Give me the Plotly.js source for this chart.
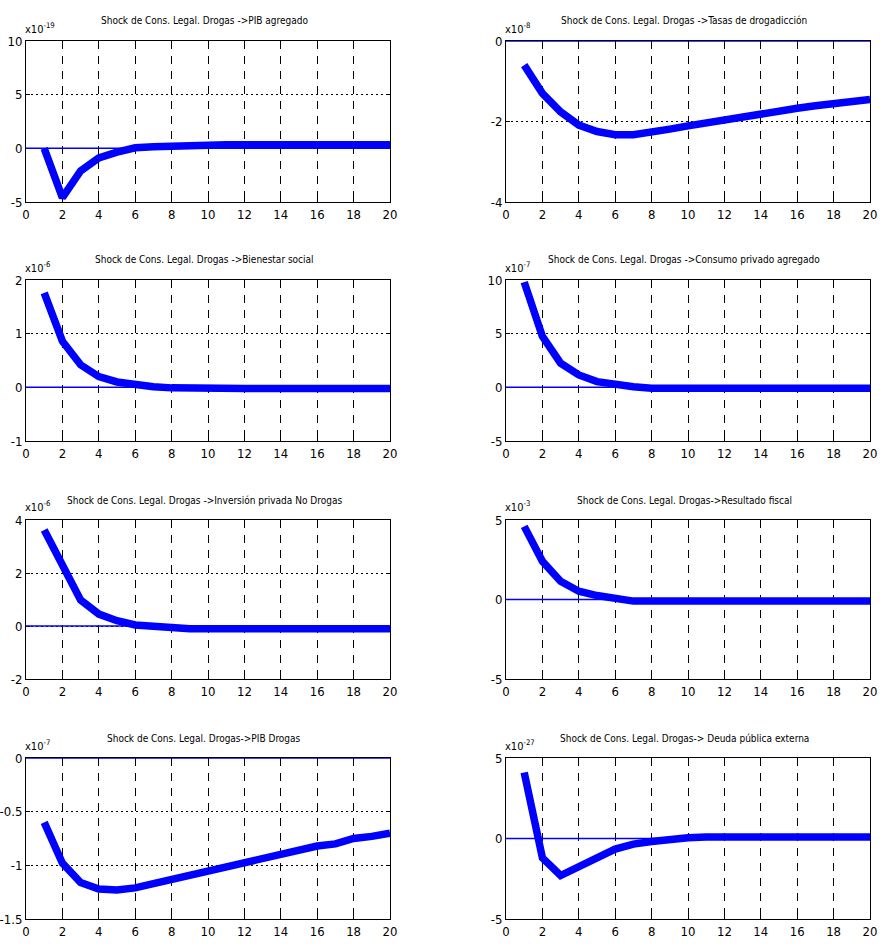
<!DOCTYPE html>
<html>
<head>
<meta charset="utf-8">
<script src="https://cdn.plot.ly/plotly-3.0.1.min.js"></script>
<style>
  html, body { margin: 0; padding: 0; background: #ffffff; }
  #chart { width: 880px; height: 944px; }
</style>
</head>
<body>
<div id="chart"></div>
<script>
// ---- Data (values shown in units of 10^exponent, as on each panel) ----
const periods = [1, 2, 3, 4, 5, 6, 7, 8, 9, 10, 11, 12, 13, 14, 15, 16, 17, 18, 19, 20];

const titles = [
  "Shock de Cons. Legal. Drogas ->PIB agregado",
  "Shock de Cons. Legal. Drogas ->Tasas de drogadicción",
  "Shock de Cons. Legal. Drogas ->Bienestar social",
  "Shock de Cons. Legal. Drogas ->Consumo privado agregado",
  "Shock de Cons. Legal. Drogas ->Inversión privada No Drogas",
  "Shock de Cons. Legal. Drogas->Resultado fiscal",
  "Shock de Cons. Legal. Drogas->PIB Drogas",
  "Shock de Cons. Legal. Drogas-> Deuda pública externa"
];

const exponents = [-19, -8, -6, -7, -6, -3, -7, -27];

const pibAgregado   = [0, -4.6, -2.1, -0.9, -0.35, 0.05, 0.15, 0.22, 0.3, 0.32, 0.33, 0.33, 0.33, 0.33, 0.33, 0.33, 0.33, 0.33, 0.33, 0.33];
const tasasDrog     = [-0.6, -1.3, -1.76, -2.09, -2.25, -2.33, -2.33, -2.28, -2.19, -2.11, -2.03, -1.95, -1.88, -1.81, -1.75, -1.67, -1.61, -1.55, -1.49, -1.45];
const bienestar     = [1.76, 0.86, 0.42, 0.2, 0.1, 0.04, 0.01, -0.01, -0.02, -0.02, -0.02, -0.02, -0.02, -0.02, -0.02, -0.02, -0.02, -0.02, -0.02, -0.02];
const consumo       = [9.8, 4.75, 2.25, 1.15, 0.53, 0.22, 0.06, -0.08, -0.08, -0.08, -0.08, -0.08, -0.08, -0.08, -0.08, -0.08, -0.08, -0.08, -0.08, -0.08];
const inversion     = [3.62, 2.24, 0.98, 0.45, 0.2, 0.04, -0.03, -0.03, -0.1, -0.1, -0.1, -0.1, -0.1, -0.1, -0.1, -0.1, -0.1, -0.1, -0.1, -0.1];
const resultado     = [4.6, 2.4, 1.15, 0.52, 0.25, 0.1, -0.1, -0.1, -0.1, -0.1, -0.1, -0.1, -0.1, -0.1, -0.1, -0.1, -0.1, -0.1, -0.1, -0.1];
const pibDrogas     = [-0.6, -0.98, -1.16, -1.22, -1.23, -1.21, -1.17, -1.13, -1.09, -1.05, -1.01, -0.97, -0.94, -0.9, -0.86, -0.82, -0.8, -0.75, -0.73, -0.7];
const deuda         = [4.1, -1.2, -2.3, -1.8, -1.2, -0.66, -0.35, -0.19, -0.04, 0.04, 0.1, 0.1, 0.1, 0.1, 0.1, 0.1, 0.1, 0.1, 0.1, 0.1];

const series = [pibAgregado, tasasDrog, bienestar, consumo, inversion, resultado, pibDrogas, deuda];

const xTicks = [0, 2, 4, 6, 8, 10, 12, 14, 16, 18, 20];
const yTicks = [
  [-5, 0, 5, 10],
  [-4, -2, 0],
  [-1, 0, 1, 2],
  [-5, 0, 5, 10],
  [-2, 0, 2, 4],
  [-5, 0, 5],
  [-1.5, -1, -0.5, 0],
  [-5, 0, 5]
];
const zeroLine = [0, 0];
const zeroX = [0, 20];

// ---- Layout geometry (pixels) ----
const W = 880, H = 944;
const colX = [[26, 390], [506, 870]];
const rowY = [[41, 202], [280, 441], [520, 679], [758, 919]];
const FONT = "'Liberation Sans Narrow', 'Arial Narrow', 'DejaVu Sans Condensed', sans-serif";

const traces = [];
const layout = {
  width: W, height: H,
  margin: {l: 0, r: 0, t: 0, b: 0},
  paper_bgcolor: "#ffffff",
  plot_bgcolor: "#ffffff",
  showlegend: false,
  font: {family: FONT, size: 12, color: "#000000"},
  annotations: []
};

for (let i = 0; i < 8; i++) {
  const col = i % 2, row = Math.floor(i / 2);
  const n = i === 0 ? "" : String(i + 1);
  const xa = "x" + n, ya = "y" + n;
  const yt = yTicks[i];
  const x0 = colX[col][0], x1 = colX[col][1];
  const yTop = rowY[row][0], yBot = rowY[row][1];

  traces.push({
    x: zeroX, y: zeroLine, xaxis: xa, yaxis: ya,
    type: "scatter", mode: "lines",
    line: {color: "#0000ff", width: 1.5},
    hoverinfo: "skip"
  });
  traces.push({
    x: periods, y: series[i], xaxis: xa, yaxis: ya,
    type: "scatter", mode: "lines",
    line: {color: "#0000ff", width: 7.5},
    hoverinfo: "skip"
  });

  layout["xaxis" + n] = {
    domain: [x0 / W, x1 / W],
    anchor: ya,
    range: [0, 20],
    tickvals: xTicks,
    ticktext: xTicks.map(String),
    showgrid: true, gridcolor: "#000000", gridwidth: 1, griddash: "8px,7px",
    zeroline: false,
    showline: true, linecolor: "#000000", linewidth: 1, mirror: "ticks",
    ticks: "inside", ticklen: 4, tickcolor: "#000000",
    tickfont: {family: FONT, size: 13, color: "#000000"},
    layer: "below traces",
    fixedrange: true
  };
  layout["yaxis" + n] = {
    domain: [1 - yBot / H, 1 - yTop / H],
    anchor: xa,
    range: [yt[0], yt[yt.length - 1]],
    tickvals: yt,
    ticktext: yt.map(String),
    showgrid: true, gridcolor: "#000000", gridwidth: 1, griddash: "2px,3px",
    zeroline: false,
    showline: true, linecolor: "#000000", linewidth: 1, mirror: "ticks",
    ticks: "inside", ticklen: 4, tickcolor: "#000000",
    tickfont: {family: FONT, size: 13, color: "#000000"},
    layer: "below traces",
    fixedrange: true
  };

  layout.annotations.push({
    xref: "paper", yref: "paper",
    x: ((x0 + x1) / 2 - 4) / W, y: 1 - (yTop - 20) / H,
    xanchor: "center", yanchor: "middle",
    text: titles[i], showarrow: false,
    font: {family: FONT, size: 10, color: "#000000"}
  });
  layout.annotations.push({
    xref: "paper", yref: "paper",
    x: (x0 - 3) / W, y: 1 - (yTop - 13) / H,
    xanchor: "left", yanchor: "middle",
    text: "x10<sup>" + exponents[i] + "</sup>", showarrow: false,
    font: {family: FONT, size: 11, color: "#000000"}
  });
}

Plotly.newPlot("chart", traces, layout, {staticPlot: true, displayModeBar: false});
</script>
</body>
</html>
